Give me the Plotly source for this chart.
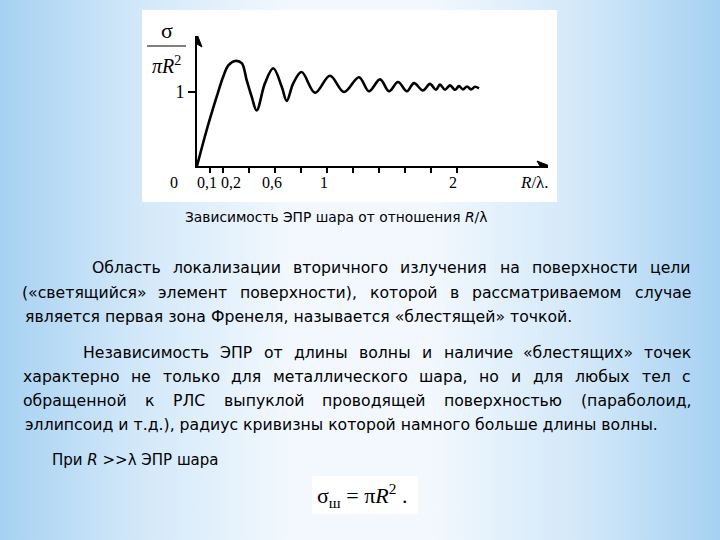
import base64
import plotly.graph_objects as go

# ---------------- data ----------------
r_lambda = [0.0, 0.075, 0.152, 0.202, 0.241, 0.292, 0.344, 0.382, 0.42, 0.459,
            0.523, 0.587, 0.652, 0.69, 0.741, 0.805, 0.908, 1.023, 1.131, 1.246,
            1.323, 1.408, 1.477, 1.546, 1.615, 1.669, 1.738, 1.792, 1.838, 1.869,
            1.908, 1.946, 1.985, 2.015, 2.046, 2.077, 2.108, 2.138, 2.169]
sigma_norm = [0.0, 0.49, 0.94, 1.21, 1.36, 1.42, 1.39, 1.16, 0.94, 0.75,
              1.12, 1.32, 1.07, 0.88, 1.12, 1.27, 0.99, 1.22, 1.00, 1.20,
              1.01, 1.17, 1.01, 1.135, 1.01, 1.12, 1.02, 1.11, 1.03, 1.10,
              1.03, 1.09, 1.03, 1.08, 1.035, 1.075, 1.035, 1.07, 1.05]

x_tickvals = [0.1, 0.2, 0.4, 0.6, 0.8, 1.0, 1.2, 1.4, 1.6, 1.8, 2.0]
x_labelvals = [0.1, 0.2, 0.6, 1.0, 2.0]
x_labeltext = ["0,1", "0,2", "0,6", "1", "2"]
x_labelshift = [-3, 8, -3, -3, -4]
y_tickvals = [1]
y_ticktext = ["1"]

caption = "Зависимость ЭПР шара от отношения <i>R</i>/λ"
para1 = ["Область локализации вторичного излучения на поверхности цели",
         "(«светящийся» элемент поверхности), которой в рассматриваемом случае",
         "является первая зона Френеля, называется «блестящей» точкой."]
para2 = ["Независимость ЭПР от длины волны и наличие «блестящих» точек",
         "характерно не только для металлического шара, но и для любых тел с",
         "обращенной к РЛС выпуклой проводящей поверхностью (параболоид,",
         "эллипсоид и т.д.), радиус кривизны которой намного больше длины волны."]
line_at = "При <i>R</i> >>λ ЭПР шара"
formula = "σ<sub>ш</sub> = π<i>R</i><sup>2</sup> ."

# ---------------- helpers ----------------
W, H = 720, 540


def px(x):
    return x / W


def py(y):
    return 1 - y / H


EM = {' ': .318, ',': .318, '.': .318, '(': .39, ')': .39, '«': .557, '»': .557,
      'а': .613, 'б': .625, 'в': .589, 'г': .477, 'д': .652, 'е': .615, 'ж': .868,
      'з': .527, 'и': .649, 'й': .649, 'к': .589, 'л': .637, 'м': .749, 'н': .649,
      'о': .612, 'п': .649, 'р': .635, 'с': .550, 'т': .573, 'у': .592, 'ф': .916,
      'х': .592, 'ц': .661, 'ч': .610, 'ш': .910, 'щ': .925, 'ъ': .714, 'ы': .819,
      'ь': .597, 'э': .550, 'ю': .861, 'я': .600, 'О': .787, 'Н': .752, 'Э': .676,
      'П': .752, 'Р': .603, 'Ф': .841, 'З': .622, 'Л': .746, 'С': .698}

BODY_FONT = "DejaVu Sans"
BODY_SIZE = 15.7


def wwidth(word, size=BODY_SIZE):
    return sum(EM.get(c, .6) for c in word) * size


annotations = []
shapes = []


def add_line(text, x0, x1, y, justify, size=BODY_SIZE):
    if not justify:
        annotations.append(dict(text=text, x=px(x0), y=py(y), xref="paper", yref="paper",
                                xanchor="left", yanchor="middle", showarrow=False,
                                font=dict(family=BODY_FONT, size=size, color="#000")))
        return
    words = text.split(" ")
    total = sum(wwidth(w, size) for w in words)
    gap = (x1 - x0 - total) / (len(words) - 1)
    cx = x0
    for w in words:
        wd = wwidth(w, size)
        annotations.append(dict(text=w, x=px(cx + wd / 2), y=py(y), xref="paper", yref="paper",
                                xanchor="center", yanchor="middle", showarrow=False,
                                font=dict(family=BODY_FONT, size=size, color="#000")))
        cx += wd + gap


# paragraphs
p1_y = [267, 292, 316]
p1_x0 = [92, 23, 23]
for i, t in enumerate(para1):
    add_line(t, p1_x0[i], 691, p1_y[i], i < len(para1) - 1)
p2_y = [352, 376, 400, 424]
p2_x0 = [83, 23, 23, 23]
for i, t in enumerate(para2):
    add_line(t, p2_x0[i], 691, p2_y[i], i < len(para2) - 1)
add_line(line_at, 50, 0, 460, False, size=15)

annotations.append(dict(text=caption, x=px(183), y=py(217), xref="paper", yref="paper",
                        xanchor="left", yanchor="middle", showarrow=False,
                        font=dict(family=BODY_FONT, size=13.8, color="#000")))

SERIF = "Liberation Serif"
# formula
annotations.append(dict(text=formula, x=px(362), y=py(495), xref="paper", yref="paper",
                        xanchor="center", yanchor="middle", showarrow=False,
                        font=dict(family=SERIF, size=22, color="#000")))
# y axis label (fraction)
annotations.append(dict(text="σ", x=px(167), y=py(30), xref="paper", yref="paper",
                        xanchor="center", yanchor="middle", showarrow=False,
                        font=dict(family=SERIF, size=22, color="#000")))
annotations.append(dict(text="<i>πR</i><sup>2</sup>", x=px(166), y=py(65), xref="paper", yref="paper",
                        xanchor="center", yanchor="middle", showarrow=False,
                        font=dict(family=SERIF, size=20, color="#000")))
shapes.append(dict(type="line", xref="paper", yref="paper", x0=px(147), x1=px(186),
                   y0=py(46), y1=py(46), line=dict(color="#000", width=1.2)))
# x axis labels
for v, t, s in zip(x_labelvals, x_labeltext, x_labelshift):
    annotations.append(dict(text=t, x=v, y=py(182), xref="x", yref="paper", xshift=s,
                            xanchor="center", yanchor="middle", showarrow=False,
                            font=dict(family=SERIF, size=16, color="#000")))
annotations.append(dict(text="0", x=px(174), y=py(182), xref="paper", yref="paper",
                        xanchor="center", yanchor="middle", showarrow=False,
                        font=dict(family=SERIF, size=16, color="#000")))
annotations.append(dict(text="<i>R</i>/λ.", x=px(534), y=py(182), xref="paper", yref="paper",
                        xanchor="center", yanchor="middle", showarrow=False,
                        font=dict(family=SERIF, size=17, color="#000")))

# axis arrowheads (pixel-sized paths anchored at the axis ends)
XMAX = 2.7
YMAX = 130 / 74
shapes.append(dict(type="path", xref="x", yref="y", xsizemode="pixel", ysizemode="pixel",
                   xanchor=XMAX, yanchor=0, path="M 2,0 L -11,5 L -8,0 L -11,-5 Z",
                   fillcolor="#000", line=dict(color="#000", width=1)))
shapes.append(dict(type="path", xref="x", yref="y", xsizemode="pixel", ysizemode="pixel",
                   xanchor=0, yanchor=YMAX, path="M 0,2 L 5,-11 L 0,-8 L -5,-11 Z",
                   fillcolor="#000", line=dict(color="#000", width=1)))

# white boxes
shapes.append(dict(type="rect", xref="paper", yref="paper", x0=px(142), x1=px(557),
                   y0=py(202), y1=py(10), fillcolor="#ffffff", line=dict(width=0), layer="below"))
shapes.append(dict(type="rect", xref="paper", yref="paper", x0=px(312), x1=px(418),
                   y0=py(514), y1=py(476), fillcolor="#ffffff", line=dict(width=0), layer="below"))

# background gradient
svg = ('<svg xmlns="http://www.w3.org/2000/svg" width="720" height="540" viewBox="0 0 720 540">'
       '<defs><linearGradient id="g" x1="0" y1="0" x2="1" y2="0">'
       '<stop offset="0" stop-color="#a6d1f2"/>'
       '<stop offset="0.18" stop-color="#d0e7f9"/>'
       '<stop offset="0.4" stop-color="#f2f8fe"/>'
       '<stop offset="0.6" stop-color="#f2f8fe"/>'
       '<stop offset="0.82" stop-color="#d0e7f9"/>'
       '<stop offset="1" stop-color="#a6d1f2"/>'
       '</linearGradient></defs><rect width="720" height="540" fill="url(#g)"/></svg>')
bg_src = "data:image/svg+xml;base64," + base64.b64encode(svg.encode()).decode()

fig = go.Figure()
fig.add_trace(go.Scatter(x=r_lambda, y=sigma_norm, mode="lines",
                         line=dict(color="#000", width=2.6, shape="spline", smoothing=1.0),
                         hoverinfo="skip", cliponaxis=False))

fig.update_layout(
    width=W, height=H, margin=dict(l=0, r=0, t=0, b=0),
    paper_bgcolor="#ffffff", plot_bgcolor="rgba(0,0,0,0)", showlegend=False,
    xaxis=dict(domain=[px(197), px(548)], range=[0, XMAX], showgrid=False, zeroline=False,
               showline=True, linecolor="#000", linewidth=2,
               tickmode="array", tickvals=x_tickvals, showticklabels=False,
               ticks="outside", ticklen=5, tickwidth=1.5, tickcolor="#000", fixedrange=True),
    yaxis=dict(domain=[py(166), py(36)], range=[0, YMAX], showgrid=False, zeroline=False,
               showline=True, linecolor="#000", linewidth=2,
               tickmode="array", tickvals=y_tickvals, ticktext=y_ticktext,
               ticks="outside", ticklen=7, tickwidth=1.5, tickcolor="#000",
               tickfont=dict(family=SERIF, size=18, color="#000"), fixedrange=True),
    annotations=annotations, shapes=shapes,
    images=[dict(source=bg_src, xref="paper", yref="paper", x=0, y=1, sizex=1, sizey=1,
                 xanchor="left", yanchor="top", sizing="stretch", layer="below")],
)

fig.write_html("out.html", post_script="document.body.style.margin='0';",
               config={"displayModeBar": False})
